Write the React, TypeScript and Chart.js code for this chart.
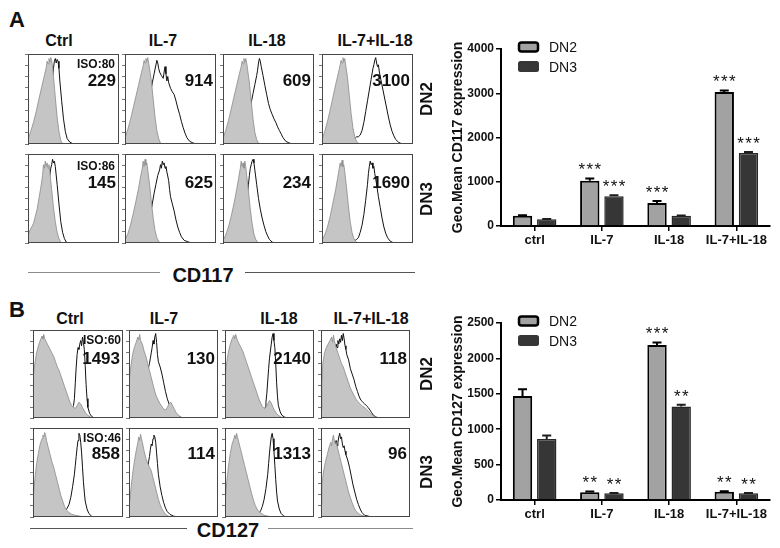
import React, { useEffect, useRef } from "react";
import { Chart, registerables } from "chart.js";
Chart.register(...registerables);

type Pt = [number, number];

// ---------- bar chart data ----------
const CATEGORIES = ["ctrl", "IL-7", "IL-18", "IL-7+IL-18"];
const SERIES = ["DN2", "DN3"];
const A_DN2 = [230, 1020, 520, 3030];
const A_DN2_ERR = [15, 55, 45, 30];
const A_DN3 = [150, 670, 230, 1650];
const A_DN3_ERR = [10, 25, 10, 20];
const B_DN2 = [1470, 110, 2190, 115];
const B_DN2_ERR = [95, 10, 35, 8];
const B_DN3 = [860, 95, 1320, 95];
const B_DN3_ERR = [50, 5, 25, 5];
const A_STARS_DN2 = ["", "***", "***", "***"];
const A_STARS_DN3 = ["", "***", "", "***"];
const B_STARS_DN2 = ["", "**", "***", "**"];
const B_STARS_DN3 = ["", "**", "**", "**"];
const A_TICKS = [0, 1000, 2000, 3000, 4000];
const B_TICKS = [0, 500, 1000, 1500, 2000, 2500];

// ---------- histogram labels ----------
const HIST_TITLES = ["Ctrl", "IL-7", "IL-18", "IL-7+IL-18"];
const A_DN2_MFI = ["229", "914", "609", "3100"];
const A_DN3_MFI = ["145", "625", "234", "1690"];
const B_DN2_MFI = ["1493", "130", "2140", "118"];
const B_DN3_MFI = ["858", "114", "1313", "96"];
const A_ISO = ["ISO:80", "ISO:86"];
const B_ISO = ["ISO:60", "ISO:46"];

// ---------- histogram curves (x: % of axis, y: % of max count) ----------
// Panel A, DN2 row (CD117)
const A2_CTRL_ISO: Pt[] = [[0,5],[3,14],[6,24],[9,36],[12,50],[15,63],[18,76],[20,85],[21,92],[22,89],[23,95],[24,91],[25,96],[26,93],[27,86],[28,75],[30,52],[32,30],[34,14],[36,4],[38,0],[100,0]];
const A2_CTRL_CD: Pt[] = [[0,3],[4,6],[8,9],[12,13],[15,18],[18,26],[21,38],[23,48],[25,60],[27,74],[28,84],[29,92],[30,95],[31,90],[32,94],[33,92],[34,84],[35,70],[37,48],[39,28],[41,14],[43,6],[46,2],[50,0],[100,0]];
const A2_IL7_ISO: Pt[] = [[0,7],[3,16],[6,27],[9,40],[12,53],[15,66],[18,79],[20,87],[21,93],[22,90],[23,95],[24,92],[25,96],[26,90],[27,84],[29,70],[31,50],[33,30],[35,15],[37,6],[39,1],[41,0],[100,0]];
const A2_IL7_CD: Pt[] = [[0,2],[5,3],[10,6],[14,9],[17,14],[20,22],[23,32],[26,45],[28,56],[30,68],[32,78],[34,88],[35,93],[36,90],[37,84],[38,80],[40,76],[42,73],[43,80],[44,86],[45,78],[46,70],[47,75],[48,68],[50,62],[52,58],[54,55],[56,48],[58,40],[60,33],[62,25],[64,18],[66,12],[68,7],[71,3],[75,1],[80,0],[100,0]];
const A2_IL18_ISO: Pt[] = [[0,6],[3,15],[6,26],[9,39],[12,52],[15,65],[18,78],[20,86],[21,92],[22,89],[23,95],[24,91],[25,95],[26,90],[27,83],[29,68],[31,48],[33,28],[35,13],[37,5],[39,1],[41,0],[100,0]];
const A2_IL18_CD: Pt[] = [[0,2],[6,3],[12,6],[16,10],[20,14],[24,20],[27,28],[29,35],[31,46],[33,56],[35,66],[37,76],[38,82],[39,90],[40,95],[41,92],[42,86],[44,76],[46,65],[48,55],[50,45],[52,38],[54,33],[56,28],[58,24],[60,19],[62,15],[64,11],[66,7],[69,3],[73,1],[78,0],[100,0]];
const A2_COMBO_ISO: Pt[] = [[0,5],[3,14],[6,25],[9,38],[12,52],[15,66],[18,79],[20,88],[21,93],[22,90],[23,96],[24,92],[25,95],[26,88],[28,74],[30,54],[32,34],[34,18],[36,8],[38,3],[40,1],[42,0],[100,0]];
const A2_COMBO_CD: Pt[] = [[0,1],[10,1],[20,1],[28,2],[33,4],[36,6],[38,8],[40,8],[42,10],[44,15],[46,24],[48,36],[50,48],[52,60],[54,72],[56,84],[57,88],[58,93],[59,96],[60,90],[61,86],[62,88],[63,80],[65,70],[67,60],[69,50],[71,40],[73,30],[75,21],[77,14],[79,9],[81,5],[84,2],[88,0],[100,0]];
// Panel A, DN3 row (CD117)
const A3_CTRL_ISO: Pt[] = [[0,8],[2,14],[4,18],[6,22],[8,30],[10,38],[12,50],[14,62],[16,76],[17,88],[18,84],[19,92],[20,86],[21,90],[22,84],[23,88],[24,80],[26,60],[28,40],[30,24],[32,12],[34,5],[36,1],[38,0],[100,0]];
const A3_CTRL_CD: Pt[] = [[0,10],[2,8],[4,9],[6,12],[9,16],[12,24],[15,34],[18,46],[20,56],[22,66],[24,76],[25,84],[26,88],[27,94],[28,90],[29,92],[30,86],[32,66],[34,44],[36,24],[38,12],[40,5],[42,1],[45,0],[100,0]];
const A3_IL7_ISO: Pt[] = [[0,4],[3,10],[6,20],[9,33],[12,47],[15,62],[17,74],[19,84],[20,92],[21,86],[22,94],[23,88],[24,90],[25,82],[27,66],[29,46],[31,28],[33,14],[35,6],[37,2],[39,0],[100,0]];
const A3_IL7_CD: Pt[] = [[0,1],[8,2],[14,4],[18,7],[22,12],[25,20],[28,32],[30,44],[32,56],[34,66],[36,76],[38,82],[39,88],[40,84],[41,92],[42,88],[43,90],[44,84],[45,86],[46,80],[48,70],[49,60],[50,52],[52,44],[54,36],[56,26],[58,18],[60,12],[62,7],[65,3],[70,1],[75,0],[100,0]];
const A3_IL18_ISO: Pt[] = [[0,3],[3,9],[6,18],[9,30],[12,44],[15,60],[17,72],[19,84],[20,92],[21,86],[22,90],[23,84],[24,92],[25,86],[26,76],[28,58],[30,38],[32,22],[34,10],[36,4],[38,1],[40,0],[100,0]];
const A3_IL18_CD: Pt[] = [[0,1],[6,2],[12,4],[16,8],[19,14],[21,20],[23,30],[25,42],[27,56],[28,66],[29,76],[30,84],[31,88],[32,92],[33,94],[34,90],[35,82],[37,66],[39,50],[41,38],[43,28],[45,20],[47,13],[49,8],[51,4],[54,1],[58,0],[100,0]];
const A3_COMBO_ISO: Pt[] = [[0,3],[3,9],[6,18],[9,30],[12,45],[15,60],[17,72],[19,84],[20,90],[21,86],[22,93],[23,86],[24,88],[25,80],[27,62],[29,42],[31,24],[33,12],[35,5],[37,2],[39,0],[100,0]];
const A3_COMBO_CD: Pt[] = [[0,1],[20,1],[30,1],[35,2],[38,4],[40,6],[42,12],[44,20],[46,32],[48,48],[50,66],[51,78],[52,86],[53,92],[54,88],[55,90],[56,84],[57,86],[58,78],[60,66],[62,52],[64,40],[66,28],[68,18],[70,11],[72,6],[75,2],[79,0],[100,0]];
// Panel B, DN2 row (CD127)
const B2_CTRL_ISO: Pt[] = [[0,44],[2,62],[4,74],[6,82],[8,88],[10,93],[11,90],[12,95],[13,90],[15,86],[17,82],[19,78],[21,74],[23,70],[25,64],[27,58],[29,54],[31,48],[33,42],[35,36],[37,30],[39,24],[41,18],[43,14],[45,12],[47,11],[49,14],[51,18],[53,16],[55,12],[57,8],[59,5],[61,3],[64,1],[67,0],[100,0]];
const B2_CTRL_CD: Pt[] = [[0,1],[20,1],[30,2],[35,3],[38,5],[41,8],[43,11],[45,14],[46,22],[47,40],[48,58],[49,72],[50,80],[51,78],[52,84],[53,88],[54,82],[55,92],[56,86],[57,78],[58,60],[59,38],[60,22],[61,12],[63,5],[65,2],[68,0],[100,0]];
const B2_IL7_ISO: Pt[] = [[0,40],[2,58],[4,72],[6,80],[8,86],[10,92],[11,89],[12,95],[13,88],[15,84],[17,76],[19,70],[21,62],[23,54],[25,46],[27,38],[29,30],[31,24],[33,20],[35,16],[37,13],[39,10],[41,9],[43,12],[45,16],[47,18],[49,14],[51,10],[53,6],[55,4],[57,2],[60,0],[100,0]];
const B2_IL7_CD: Pt[] = [[0,4],[3,6],[6,10],[9,16],[12,22],[15,30],[17,38],[19,46],[21,54],[23,62],[24,68],[25,74],[26,80],[27,88],[28,84],[29,92],[30,96],[31,86],[32,72],[33,64],[35,58],[37,50],[39,40],[41,30],[43,22],[45,16],[47,11],[49,7],[52,4],[56,2],[60,0],[100,0]];
const B2_IL18_ISO: Pt[] = [[0,46],[2,64],[4,76],[6,84],[8,90],[10,94],[11,90],[12,95],[14,88],[16,84],[18,80],[20,76],[22,70],[24,64],[26,58],[28,52],[30,46],[32,40],[34,34],[36,28],[38,22],[40,17],[42,13],[44,11],[46,12],[48,16],[50,20],[52,17],[54,12],[56,8],[58,5],[60,3],[63,1],[66,0],[100,0]];
const B2_IL18_CD: Pt[] = [[0,1],[20,1],[30,2],[36,3],[40,5],[43,8],[45,12],[46,18],[47,28],[48,42],[49,56],[50,68],[51,76],[52,84],[53,92],[54,96],[55,88],[56,80],[57,62],[58,40],[59,24],[60,14],[62,7],[64,3],[67,1],[70,0],[100,0]];
const B2_COMBO_ISO: Pt[] = [[0,10],[1,40],[2,62],[4,74],[6,80],[8,84],[10,88],[12,92],[13,86],[14,94],[15,88],[17,80],[19,74],[21,68],[23,62],[25,58],[27,52],[29,46],[31,40],[33,34],[35,30],[37,26],[39,22],[41,19],[43,17],[45,15],[47,13],[49,12],[51,10],[53,8],[55,6],[57,4],[59,2],[62,1],[65,0],[100,0]];
const B2_COMBO_CD: Pt[] = [[0,20],[1,40],[3,52],[5,58],[7,64],[9,62],[11,68],[13,72],[15,78],[16,74],[17,84],[18,80],[19,88],[20,84],[21,90],[22,86],[23,94],[24,88],[25,96],[26,90],[27,82],[28,78],[29,72],[31,66],[33,56],[35,50],[37,44],[39,36],[41,30],[43,24],[45,20],[47,18],[49,16],[51,14],[53,12],[55,9],[57,6],[59,3],[62,1],[66,0],[100,0]];
// Panel B, DN3 row (CD127)
const B3_CTRL_ISO: Pt[] = [[0,18],[2,42],[4,60],[6,72],[8,82],[10,88],[11,92],[12,90],[13,95],[14,92],[15,86],[17,78],[19,70],[21,62],[23,56],[25,48],[27,40],[29,32],[31,24],[33,18],[35,12],[37,8],[40,5],[43,3],[47,2],[52,1],[58,0],[100,0]];
const B3_CTRL_CD: Pt[] = [[0,1],[15,1],[25,1],[30,2],[33,4],[36,7],[38,10],[40,14],[42,22],[44,34],[46,48],[47,58],[48,68],[49,78],[50,86],[51,94],[52,92],[53,84],[54,72],[55,56],[56,40],[57,28],[58,18],[60,9],[62,4],[65,1],[68,0],[100,0]];
const B3_IL7_ISO: Pt[] = [[0,10],[2,30],[4,48],[6,62],[8,74],[10,84],[11,90],[12,86],[13,93],[14,88],[15,84],[17,74],[19,66],[21,60],[23,56],[25,52],[27,44],[29,36],[31,28],[33,20],[35,14],[37,9],[39,6],[41,3],[44,1],[48,0],[100,0]];
const B3_IL7_CD: Pt[] = [[0,8],[2,14],[4,18],[6,22],[8,26],[10,30],[12,34],[14,38],[16,42],[18,46],[20,52],[22,62],[23,68],[24,76],[25,82],[26,80],[27,88],[28,92],[29,90],[30,84],[31,72],[32,60],[33,48],[35,34],[37,24],[39,16],[41,10],[43,6],[46,3],[50,1],[55,0],[100,0]];
const B3_IL18_ISO: Pt[] = [[0,14],[2,40],[4,58],[6,72],[8,82],[10,88],[11,92],[12,88],[13,94],[14,90],[16,82],[18,74],[20,66],[22,58],[24,50],[26,42],[28,34],[30,26],[32,19],[34,13],[36,9],[38,6],[41,4],[44,2],[48,1],[53,0],[100,0]];
const B3_IL18_CD: Pt[] = [[0,1],[20,1],[30,1],[35,2],[38,4],[40,7],[42,12],[44,20],[46,32],[48,48],[49,60],[50,72],[51,82],[52,90],[53,94],[54,88],[55,74],[56,58],[57,42],[58,28],[59,18],[61,9],[63,4],[66,1],[70,0],[100,0]];
const B3_COMBO_ISO: Pt[] = [[0,14],[1,36],[3,52],[5,62],[7,70],[9,78],[11,84],[12,80],[13,88],[14,92],[15,86],[16,82],[17,84],[19,76],[21,68],[23,60],[25,52],[27,44],[29,36],[31,28],[33,22],[35,16],[37,11],[39,7],[42,4],[45,2],[49,1],[53,0],[100,0]];
const B3_COMBO_CD: Pt[] = [[0,6],[1,24],[3,40],[5,50],[7,56],[9,60],[11,66],[13,72],[14,78],[15,74],[16,82],[17,86],[18,80],[19,84],[20,90],[21,94],[22,88],[23,90],[24,82],[25,78],[26,80],[27,74],[28,70],[30,64],[32,56],[34,46],[36,36],[38,28],[40,20],[42,14],[44,9],[46,5],[49,2],[53,1],[57,0],[100,0]];

const A2_ISO = [A2_CTRL_ISO, A2_IL7_ISO, A2_IL18_ISO, A2_COMBO_ISO];
const A2_CD = [A2_CTRL_CD, A2_IL7_CD, A2_IL18_CD, A2_COMBO_CD];
const A3_ISO = [A3_CTRL_ISO, A3_IL7_ISO, A3_IL18_ISO, A3_COMBO_ISO];
const A3_CD = [A3_CTRL_CD, A3_IL7_CD, A3_IL18_CD, A3_COMBO_CD];
const B2_ISO = [B2_CTRL_ISO, B2_IL7_ISO, B2_IL18_ISO, B2_COMBO_ISO];
const B2_CD = [B2_CTRL_CD, B2_IL7_CD, B2_IL18_CD, B2_COMBO_CD];
const B3_ISO = [B3_CTRL_ISO, B3_IL7_ISO, B3_IL18_ISO, B3_COMBO_ISO];
const B3_CD = [B3_CTRL_CD, B3_IL7_CD, B3_IL18_CD, B3_COMBO_CD];

const FONT = '"Liberation Sans", Arial, Helvetica, sans-serif';

// ---------- layout ----------
const A_COLS: [number, number][] = [[28, 119], [125, 216], [223, 314], [322, 413]];
const A_ROWS: [number, number][] = [[54, 144], [154, 243]];
const B_COLS: [number, number][] = [[33, 123], [129, 218], [225, 314], [321, 410]];
const B_ROWS: [number, number][] = [[330, 418], [428, 517]];

const boxPlugin = {
  id: "box",
  afterDraw(chart: any) {
    const { ctx, chartArea: a } = chart;
    ctx.save();
    ctx.strokeStyle = "#474747";
    ctx.lineWidth = 1;
    ctx.strokeRect(a.left + 0.5, a.top + 0.5, a.right - a.left - 1, a.bottom - a.top - 1);
    ctx.restore();
  },
};

function Histogram(props: { x0: number; x1: number; y0: number; y1: number; iso: Pt[]; cd: Pt[] }) {
  const { x0, x1, y0, y1, iso, cd } = props;
  const ref = useRef<HTMLCanvasElement>(null);
  useEffect(() => {
    const chart = new Chart(ref.current as HTMLCanvasElement, {
      type: "line",
      data: {
        datasets: [
          {
            data: iso.map(([x, y]) => ({ x, y })),
            fill: "origin",
            backgroundColor: "#c5c5c5",
            borderColor: "#8a8a8a",
            borderWidth: 0.8,
            pointRadius: 0,
            tension: 0,
          },
          {
            data: cd.map(([x, y]) => ({ x, y })),
            fill: false,
            borderColor: "#111",
            borderWidth: 1,
            pointRadius: 0,
            tension: 0,
          },
        ],
      } as any,
      options: {
        responsive: false,
        animation: false,
        events: [],
        layout: { padding: { top: 1, right: 1, bottom: 1, left: 0 } },
        plugins: { legend: { display: false }, tooltip: { enabled: false } },
        scales: {
          x: { type: "linear", min: 0, max: 100, display: false },
          y: {
            min: 0,
            max: 100,
            ticks: { display: false, stepSize: 12.5 },
            grid: { drawOnChartArea: false, tickLength: 3, color: "#777", lineWidth: 1 },
            border: { display: true, color: "#474747", width: 1 },
            afterFit: (s: any) => {
              s.width = 4;
            },
          },
        },
      } as any,
      plugins: [boxPlugin],
    });
    return () => chart.destroy();
  }, []);
  return (
    <canvas
      ref={ref}
      width={x1 - x0 + 5}
      height={y1 - y0 + 2}
      style={{ position: "absolute", left: x0 - 4, top: y0 - 1, width: x1 - x0 + 5, height: y1 - y0 + 2 }}
    />
  );
}

function BarPanel(props: {
  top: number;
  padTop: number;
  xHeight: number;
  title: string;
  ticks: number[];
  dn2: number[];
  dn2Err: number[];
  dn3: number[];
  dn3Err: number[];
  stars2: string[];
  stars3: string[];
}) {
  const ref = useRef<HTMLCanvasElement>(null);
  const { top, padTop, xHeight, title, ticks, dn2, dn2Err, dn3, dn3Err, stars2, stars3 } = props;
  useEffect(() => {
    const errPlugin = {
      id: "err",
      afterDatasetsDraw(chart: any) {
        const ctx = chart.ctx;
        const ys = chart.scales.y;
        const sets: [number[], number[], string[], string][] = [
          [dn2, dn2Err, stars2, "#000"],
          [dn3, dn3Err, stars3, "#1e1e1e"],
        ];
        sets.forEach(([vals, errs, stars, col], di) => {
          const meta = chart.getDatasetMeta(di);
          meta.data.forEach((bar: any, i: number) => {
            const x = bar.x;
            const yTop = ys.getPixelForValue(vals[i]);
            const yErr = ys.getPixelForValue(vals[i] + errs[i]);
            ctx.save();
            ctx.strokeStyle = col;
            ctx.lineWidth = 2;
            ctx.beginPath();
            ctx.moveTo(x, yTop);
            ctx.lineTo(x, yErr);
            ctx.moveTo(x - 4.5, yErr);
            ctx.lineTo(x + 4.5, yErr);
            ctx.stroke();
            const s = stars[i];
            if (s) {
              const fs = 17;
              ctx.font = `${fs}px ${FONT}`;
              ctx.fillStyle = "#111";
              ctx.textAlign = "center";
              ctx.textBaseline = "alphabetic";
              const cy = yErr - 13;
              const n = s.length;
              for (let k = 0; k < n; k++) {
                ctx.fillText("*", x + (k - (n - 1) / 2) * 8, cy + 0.58 * fs);
              }
            }
            ctx.restore();
          });
        });
      },
    };
    const legendPlugin = {
      id: "lg",
      afterDraw(chart: any) {
        const { ctx, chartArea: a } = chart;
        chart.data.datasets.forEach((ds: any, i: number) => {
          const cy = a.top - 2 + i * 19.5;
          const x = a.left + 17;
          ctx.save();
          ctx.beginPath();
          if (i === 0) {
            ctx.roundRect(x + 1, cy - 4.5, 19, 9, 2.5);
            ctx.fillStyle = ds.backgroundColor;
            ctx.fill();
            ctx.lineWidth = 2.5;
            ctx.strokeStyle = "#000";
            ctx.stroke();
          } else {
            ctx.roundRect(x, cy - 5.5, 21, 11, 2.5);
            ctx.fillStyle = ds.backgroundColor;
            ctx.fill();
          }
          ctx.font = `14px ${FONT}`;
          ctx.fillStyle = "#111";
          ctx.textAlign = "left";
          ctx.textBaseline = "alphabetic";
          ctx.fillText(ds.label, a.left + 48, cy + 5);
          ctx.restore();
        });
      },
    };
    const maxV = ticks[ticks.length - 1];
    const chart = new Chart(ref.current as HTMLCanvasElement, {
      type: "bar",
      data: {
        labels: CATEGORIES,
        datasets: [
          {
            label: SERIES[0],
            data: dn2,
            backgroundColor: "#a2a2a2",
            borderColor: "#000",
            borderWidth: 2,
            categoryPercentage: 0.72,
            barPercentage: 0.8,
          },
          {
            label: SERIES[1],
            data: dn3,
            backgroundColor: "#363636",
            borderColor: "#262626",
            borderWidth: 1.5,
            categoryPercentage: 0.72,
            barPercentage: 0.8,
          },
        ],
      },
      options: {
        responsive: false,
        animation: false,
        events: [],
        layout: { padding: { left: 20, top: padTop, right: 10, bottom: 0 } },
        plugins: { legend: { display: false }, tooltip: { enabled: false } },
        scales: {
          x: {
            grid: { offset: false, drawOnChartArea: false, tickLength: 5, color: "#000", lineWidth: 1.5 },
            border: { color: "#000", width: 2 },
            ticks: {
              font: { family: FONT, size: 13, weight: "bold" },
              color: "#111",
              padding: 2,
              maxRotation: 0,
              autoSkip: false,
            },
            afterFit: (s: any) => {
              s.height = xHeight;
            },
          },
          y: {
            min: 0,
            max: maxV,
            afterBuildTicks: (s: any) => {
              s.ticks = ticks.map((v) => ({ value: v }));
            },
            ticks: {
              font: { family: FONT, size: 12, weight: "bold" },
              color: "#111",
              padding: 2,
              callback: (v: any) => String(v),
            },
            grid: { drawOnChartArea: false, tickLength: 5, color: "#000", lineWidth: 1.5 },
            border: { color: "#000", width: 2 },
            title: {
              display: true,
              text: title,
              font: { family: FONT, size: 14, weight: "bold" },
              color: "#111",
              padding: { top: 0, bottom: 0 },
            },
            afterFit: (s: any) => {
              s.width = 51;
            },
          },
        },
      } as any,
      plugins: [errPlugin, legendPlugin],
    });
    return () => chart.destroy();
  }, []);
  return (
    <canvas
      ref={ref}
      width={350}
      height={235}
      style={{ position: "absolute", left: 430, top, width: 350, height: 235 }}
    />
  );
}

function Txt(props: {
  x: number;
  y: number;
  text: string;
  size: number;
  bold?: boolean;
  align?: "left" | "center" | "right";
  rotate?: number;
}) {
  const { x, y, text, size, bold = true, align = "center", rotate = 0 } = props;
  const tx = align === "center" ? "-50%" : align === "right" ? "-100%" : "0";
  return (
    <div
      style={{
        position: "absolute",
        left: x,
        top: y,
        transform: `translate(${tx},-50%) rotate(${rotate}deg)`,
        fontFamily: FONT,
        fontSize: size,
        fontWeight: bold ? 700 : 400,
        lineHeight: 1,
        whiteSpace: "nowrap",
        color: "#111",
      }}
    >
      {text}
    </div>
  );
}

function Line(props: { x0: number; x1: number; y: number; color: string }) {
  return (
    <div
      style={{
        position: "absolute",
        left: props.x0,
        top: props.y,
        width: props.x1 - props.x0,
        height: 0,
        borderTop: `1.5px solid ${props.color}`,
      }}
    />
  );
}

export default function App() {
  const aTitleX = [59, 163, 267, 375];
  const bTitleX = [70, 164, 279, 371];
  return (
    <div
      style={{
        position: "fixed",
        left: 0,
        top: 0,
        width: 780,
        height: 548,
        background: "#fff",
        overflow: "hidden",
      }}
    >
      {/* Panel A */}
      <Txt x={9} y={20} text="A" size={22} align="left" />
      {HIST_TITLES.map((t, i) => (
        <Txt key={"at" + i} x={aTitleX[i]} y={41} text={t} size={16} />
      ))}
      {A_COLS.map(([x0, x1], i) => (
        <Histogram key={"a2" + i} x0={x0} x1={x1} y0={A_ROWS[0][0]} y1={A_ROWS[0][1]} iso={A2_ISO[i]} cd={A2_CD[i]} />
      ))}
      {A_COLS.map(([x0, x1], i) => (
        <Histogram key={"a3" + i} x0={x0} x1={x1} y0={A_ROWS[1][0]} y1={A_ROWS[1][1]} iso={A3_ISO[i]} cd={A3_CD[i]} />
      ))}
      <Txt x={A_COLS[0][1] - 4} y={A_ROWS[0][0] + 10} text={A_ISO[0]} size={12} align="right" />
      <Txt x={A_COLS[0][1] - 4} y={A_ROWS[1][0] + 12} text={A_ISO[1]} size={12} align="right" />
      {A_COLS.map(([, x1], i) => (
        <Txt key={"am2" + i} x={x1 - 3} y={A_ROWS[0][0] + 26} text={A_DN2_MFI[i]} size={17} align="right" />
      ))}
      {A_COLS.map(([, x1], i) => (
        <Txt key={"am3" + i} x={x1 - 3} y={A_ROWS[1][0] + 28} text={A_DN3_MFI[i]} size={17} align="right" />
      ))}
      <Txt x={426} y={99} text="DN2" size={17} rotate={-90} />
      <Txt x={426} y={199} text="DN3" size={17} rotate={-90} />
      <Line x0={28} x1={160} y={272} color="#8c8c8c" />
      <Line x0={245} x1={415} y={272} color="#555" />
      <Txt x={203} y={275} text="CD117" size={20} />
      <BarPanel
        top={30}
        padTop={19}
        xHeight={39}
        title="Geo.Mean CD117 expression"
        ticks={A_TICKS}
        dn2={A_DN2}
        dn2Err={A_DN2_ERR}
        dn3={A_DN3}
        dn3Err={A_DN3_ERR}
        stars2={A_STARS_DN2}
        stars3={A_STARS_DN3}
      />

      {/* Panel B */}
      <Txt x={9} y={310} text="B" size={22} align="left" />
      {HIST_TITLES.map((t, i) => (
        <Txt key={"bt" + i} x={bTitleX[i]} y={319} text={t} size={16} />
      ))}
      {B_COLS.map(([x0, x1], i) => (
        <Histogram key={"b2" + i} x0={x0} x1={x1} y0={B_ROWS[0][0]} y1={B_ROWS[0][1]} iso={B2_ISO[i]} cd={B2_CD[i]} />
      ))}
      {B_COLS.map(([x0, x1], i) => (
        <Histogram key={"b3" + i} x0={x0} x1={x1} y0={B_ROWS[1][0]} y1={B_ROWS[1][1]} iso={B3_ISO[i]} cd={B3_CD[i]} />
      ))}
      <Txt x={B_COLS[0][1] - 2} y={B_ROWS[0][0] + 10} text={B_ISO[0]} size={12} align="right" />
      <Txt x={B_COLS[0][1] - 2} y={B_ROWS[1][0] + 10} text={B_ISO[1]} size={12} align="right" />
      {B_COLS.map(([, x1], i) => (
        <Txt key={"bm2" + i} x={x1 - 3} y={B_ROWS[0][0] + 28} text={B_DN2_MFI[i]} size={17} align="right" />
      ))}
      {B_COLS.map(([, x1], i) => (
        <Txt key={"bm3" + i} x={x1 - 3} y={B_ROWS[1][0] + 25} text={B_DN3_MFI[i]} size={17} align="right" />
      ))}
      <Txt x={426} y={374} text="DN2" size={17} rotate={-90} />
      <Txt x={426} y={472} text="DN3" size={17} rotate={-90} />
      <Line x0={30} x1={187} y={528} color="#555" />
      <Line x0={268} x1={413} y={528} color="#8c8c8c" />
      <Txt x={228} y={530} text="CD127" size={20} />
      <BarPanel
        top={300}
        padTop={23}
        xHeight={35}
        title="Geo.Mean CD127 expression"
        ticks={B_TICKS}
        dn2={B_DN2}
        dn2Err={B_DN2_ERR}
        dn3={B_DN3}
        dn3Err={B_DN3_ERR}
        stars2={B_STARS_DN2}
        stars3={B_STARS_DN3}
      />
    </div>
  );
}
